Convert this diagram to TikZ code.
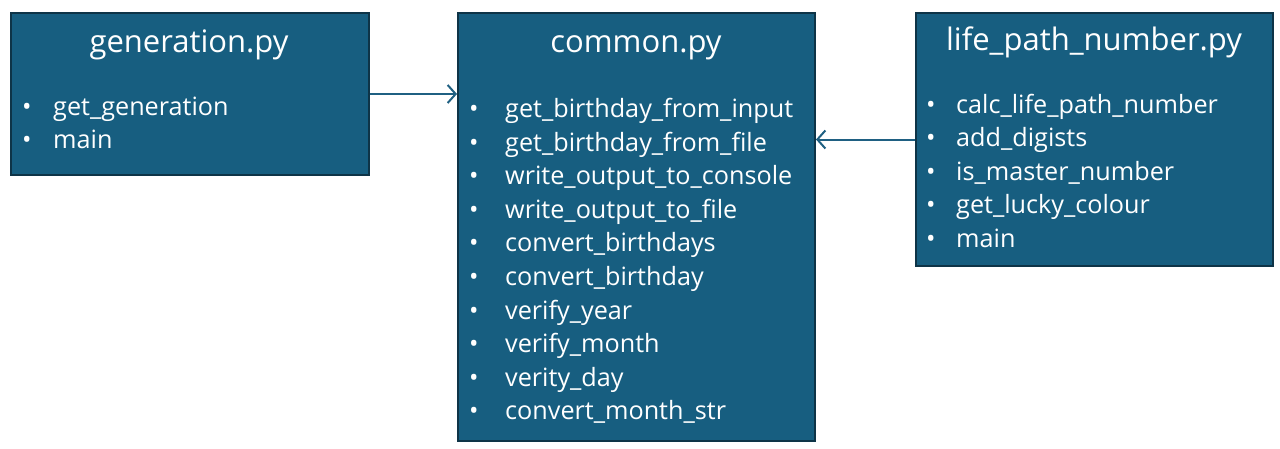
\documentclass[tikz,border=0pt]{standalone}
\usepackage{fontspec}
\setmainfont{Open Sans}
\usetikzlibrary{arrows.meta}
\definecolor{boxfill}{HTML}{175E80}
\definecolor{boxline}{HTML}{0E3447}
\definecolor{linkline}{HTML}{1F6082}

\begin{document}
\begin{tikzpicture}[x=1pt,y=-1pt,
	module/.style={draw=boxline, line width=2pt, fill=boxfill, anchor=north west, inner sep=0pt},
	title/.style={text=white, anchor=base, inner sep=0pt, font=\fontsize{31}{36}\selectfont},
	item/.style={text=white, anchor=base west, inner sep=0pt, font=\fontsize{25.2}{30}\selectfont},
	link/.style={draw=linkline, line width=2pt, -{Straight Barb[length=8pt,width=18pt]}}]
	
	\useasboundingbox (0,0) rectangle (1280,448);
	
	% modules
	\node[module, minimum width=358, minimum height=162] (generation) at (10,12) {};
	\node[module, minimum width=357, minimum height=428] (common) at (457,12) {};
	\node[module, minimum width=357, minimum height=253] (lifepath) at (915,12) {};
	
	% titles
	\node[title] (generation title) at (189,52) {generation.py};
	\node[title] (common title) at (636,52) {common.py};
	\node[title] (lifepath title) at (1094,50) {life\_path\_number.py};
	
	% functions
	\foreach \fn [count=\i] in {get\_generation, main}
		\node[item] (generation fn \i) at (22,{115+33.5*(\i-1)}) {\makebox[31pt][l]{\textbullet}\fn};
	\foreach \fn [count=\i] in {get\_birthday\_from\_input, get\_birthday\_from\_file,
		write\_output\_to\_console, write\_output\_to\_file, convert\_birthdays,
		convert\_birthday, verify\_year, verify\_month, verity\_day, convert\_month\_str}
		\node[item] (common fn \i) at (469,{117.5+33.6*(\i-1)}) {\makebox[36pt][l]{\textbullet}\fn};
	\foreach \fn [count=\i] in {calc\_life\_path\_number, add\_digists, is\_master\_number,
		get\_lucky\_colour, main}
		\node[item] (lifepath fn \i) at (926,{113+33.5*(\i-1)}) {\makebox[30pt][l]{\textbullet}\fn};
	
	% imports
	\draw[link] (generation.east) -- (common.west |- generation.east);
	\draw[link] (lifepath.west) -- (common.east |- lifepath.west);
\end{tikzpicture}
\end{document}
